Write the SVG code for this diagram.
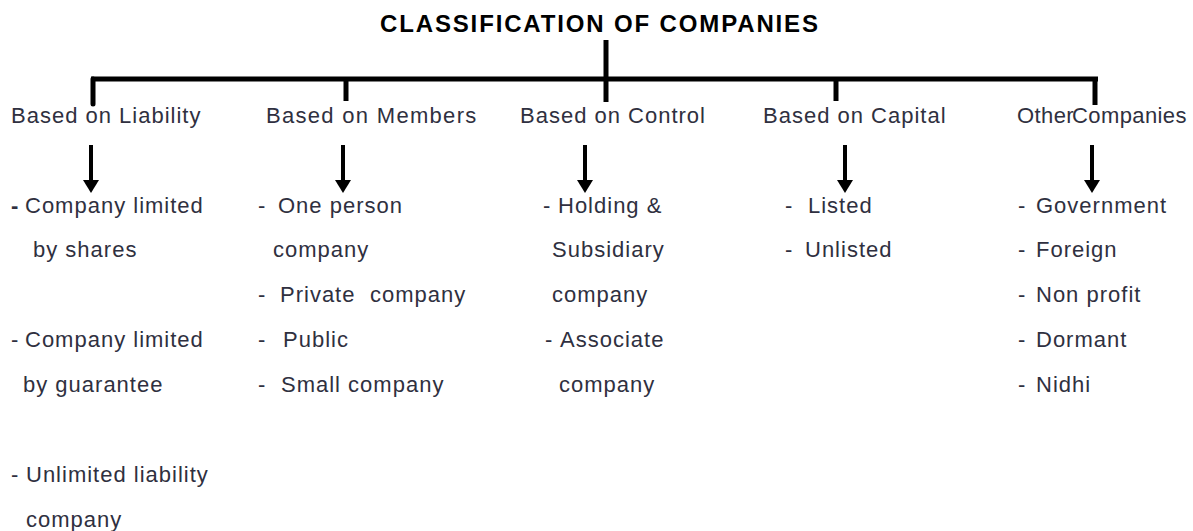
<svg xmlns="http://www.w3.org/2000/svg" width="1193" height="531" viewBox="0 0 1193 531">
<style>
.t{font-family:"Liberation Sans",Arial,sans-serif;font-size:22px;fill:#2f3040;letter-spacing:1px}
.title{font-family:"Liberation Sans",Arial,sans-serif;font-size:24px;font-weight:bold;fill:#000}
.bar{stroke:#000;stroke-width:5;fill:none}
.arr{stroke:#000;stroke-width:4;fill:none}
</style>
<defs>
<marker id="ah" markerUnits="userSpaceOnUse" markerWidth="13" markerHeight="16" viewBox="0 0 13 16" refX="0" refY="8" orient="auto">
<path d="M0,0 L13,8 L0,16 z" fill="#000"/>
</marker>
</defs>
<rect width="1193" height="531" fill="#fff"/>
<g id="title"><text class="title" x="380" y="32" textLength="438" lengthAdjust="spacing">CLASSIFICATION OF COMPANIES</text></g>
<g id="connectors">
<line class="bar" x1="606" y1="40" x2="606" y2="102"/>
<line class="bar" x1="91" y1="79" x2="1098" y2="79"/>
<line class="bar" x1="93" y1="79" x2="93" y2="104" stroke-linecap="round"/>
<line class="bar" x1="346" y1="79" x2="346" y2="101"/>
<line class="bar" x1="836" y1="79" x2="836" y2="101"/>
<line class="bar" x1="1095" y1="79" x2="1095" y2="105"/>
<line class="arr" x1="91" y1="145" x2="91" y2="180" marker-end="url(#ah)"/>
<line class="arr" x1="343" y1="145" x2="343" y2="180" marker-end="url(#ah)"/>
<line class="arr" x1="585" y1="145" x2="585" y2="180" marker-end="url(#ah)"/>
<line class="arr" x1="845" y1="145" x2="845" y2="180" marker-end="url(#ah)"/>
<line class="arr" x1="1092" y1="145" x2="1092" y2="180" marker-end="url(#ah)"/>
</g>
<g id="liability">
<text class="t" x="11" y="123">Based on Liability</text>
<text class="t" y="213"><tspan x="11" font-weight="bold">-</tspan><tspan x="25">Company limited</tspan></text>
<text class="t" x="33" y="257">by shares</text>
<text class="t" y="347"><tspan x="11">-</tspan><tspan x="25">Company limited</tspan></text>
<text class="t" x="23" y="392">by guarantee</text>
<text class="t" y="482"><tspan x="11">-</tspan><tspan x="26">Unlimited liability</tspan></text>
<text class="t" x="26" y="527">company</text>
</g>
<g id="members">
<text class="t" x="266" y="123" style="letter-spacing:1.3px">Based on Members</text>
<text class="t" y="213"><tspan x="258">-</tspan><tspan x="278">One person</tspan></text>
<text class="t" x="273" y="257">company</text>
<text class="t" y="302"><tspan x="258">-</tspan><tspan x="280">Private</tspan><tspan x="370">company</tspan></text>
<text class="t" y="347"><tspan x="258">-</tspan><tspan x="283">Public</tspan></text>
<text class="t" y="392"><tspan x="258">-</tspan><tspan x="281">Small company</tspan></text>
</g>
<g id="control">
<text class="t" x="520" y="123">Based on Control</text>
<text class="t" y="213"><tspan x="543">-</tspan><tspan x="558">Holding &amp;</tspan></text>
<text class="t" x="552" y="257">Subsidiary</text>
<text class="t" x="552" y="302">company</text>
<text class="t" y="347"><tspan x="545">-</tspan><tspan x="560">Associate</tspan></text>
<text class="t" x="559" y="392">company</text>
</g>
<g id="capital">
<text class="t" x="763" y="123">Based on Capital</text>
<text class="t" y="213"><tspan x="785">-</tspan><tspan x="808">Listed</tspan></text>
<text class="t" y="257"><tspan x="785">-</tspan><tspan x="805">Unlisted</tspan></text>
</g>
<g id="other">
<text class="t" x="1017" y="123" style="letter-spacing:0.4px">Other<tspan x="1072">Companies</tspan></text>
<text class="t" y="213"><tspan x="1018">-</tspan><tspan x="1036">Government</tspan></text>
<text class="t" y="257"><tspan x="1018">-</tspan><tspan x="1036">Foreign</tspan></text>
<text class="t" y="302"><tspan x="1018">-</tspan><tspan x="1036">Non profit</tspan></text>
<text class="t" y="347"><tspan x="1018">-</tspan><tspan x="1036">Dormant</tspan></text>
<text class="t" y="392"><tspan x="1018">-</tspan><tspan x="1036">Nidhi</tspan></text>
</g>
</svg>
